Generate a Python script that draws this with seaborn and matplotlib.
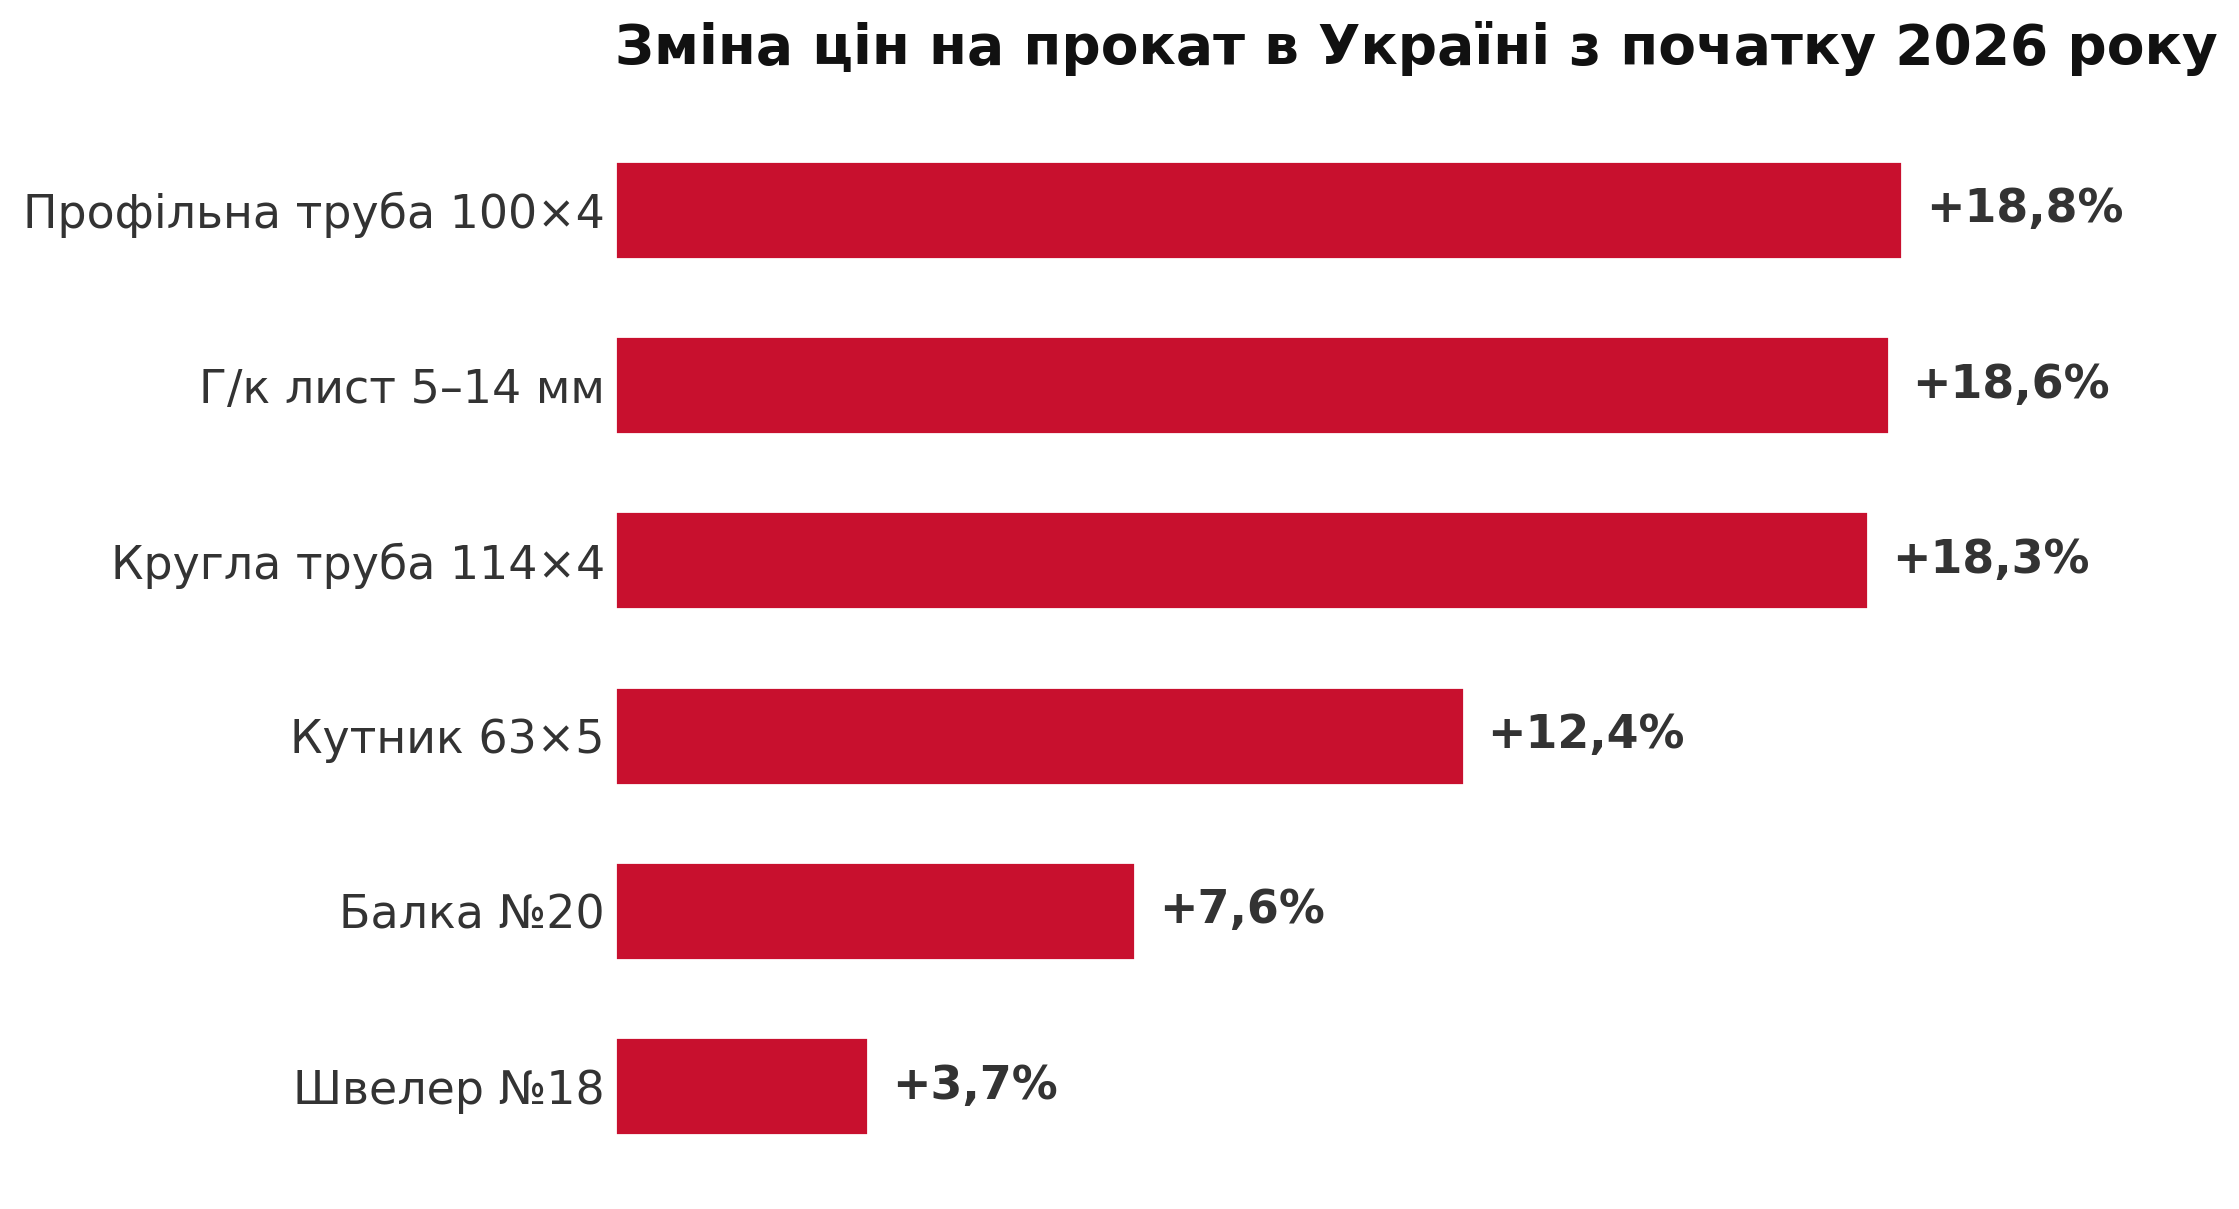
import pandas as pd
import seaborn as sns
import matplotlib.pyplot as plt

# дані
products = ['Профільна труба 100×4', 'Г/к лист 5–14 мм', 'Кругла труба 114×4',
            'Кутник 63×5', 'Балка №20', 'Швелер №18']
changes = [18.8, 18.6, 18.3, 12.4, 7.6, 3.7]

df = pd.DataFrame({'product': products, 'change': changes})

sns.set_style('white')
plt.rcParams['font.family'] = ['DejaVu Sans']

fig = plt.figure(figsize=(11.195, 6.045), dpi=200)
ax = fig.add_axes([0.2745, 0.029, 0.673, 0.87])

sns.barplot(data=df, x='change', y='product', color='#C8102E',
            saturation=1, width=0.56, ax=ax)

# підписи значень
labels = ['+' + f'{v:.1f}'.replace('.', ',') + '%' for v in changes]
ax.bar_label(ax.containers[0], labels=labels, padding=8.5,
             fontsize=16.5, fontweight='bold', color='#333333')

ax.set_xlim(0, 22)
ax.set_xticks([])
ax.set_xlabel('')
ax.set_ylabel('')
ax.tick_params(axis='y', length=0, pad=3.5, labelsize=16.5, labelcolor='#333333')
sns.despine(ax=ax, left=True, bottom=True)

ax.set_title('Зміна цін на прокат в Україні з початку 2026 року', loc='left',
             fontsize=19.8, fontweight='bold', color='#111111', pad=21)

fig.savefig('out.png', dpi=200)
